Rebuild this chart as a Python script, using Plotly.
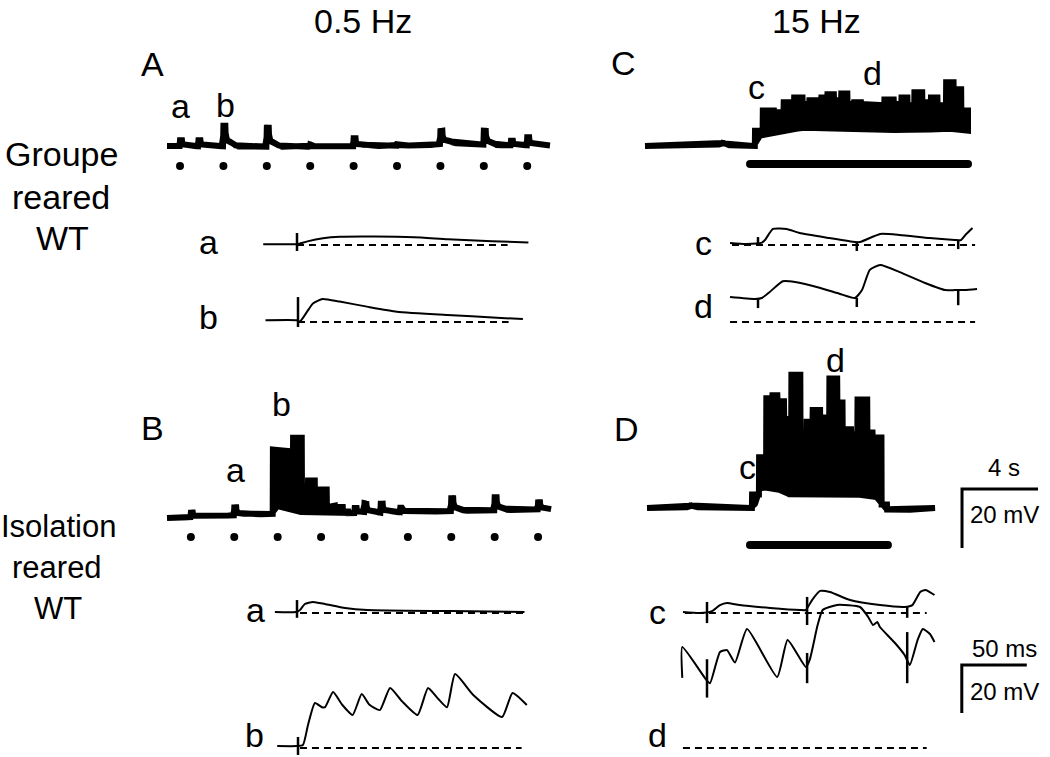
import numpy as np
import plotly.graph_objects as go

W, H = 1050, 757
FONT = "Liberation Sans, Arial, sans-serif"

# ===================== DATA =====================
# ---- Overview traces: time (s), potential (mV, relative to trace start) ----
# A : group reared, 0.5 Hz
A_end = 17.65
A_base_t = [0, 6.6, 12.0, 13.0, 14.0, 15.0, 17.65]
A_base_v = [0, -0.3, 0.2, 1.0, 0.8, 0.3, 0.2]
A_stim_t = [0.6, 2.6, 4.6, 6.6, 8.6, 10.6, 12.6, 14.6, 16.6]
A_resp_mV = [2.0, 7.0, 6.4, 0.8, 2.7, 0.5, 4.4, 4.7, 2.7]
A_spont_t = [1.45, 15.85]
A_spont_mV = [2.0, 1.5]

# B : isolation reared, 0.5 Hz
B_end = 17.7
B_base_t = [0, 4.9, 8.9, 17.7]
B_base_v = [0, 1.4, 1.7, 3.0]
B_stim_t = [1.1, 3.1, 5.1, 7.1, 9.1, 11.1, 13.1, 15.1, 17.1]
B_evt_t = [1.1, 3.1, 8.65, 9.1, 9.85, 10.75, 13.1, 15.1, 17.1]
B_evt_mV = [1.5, 2.7, 1.7, 3.0, 3.0, 1.5, 4.4, 4.4, 2.4]
B_burst_start = [4.88, 5.35, 5.58, 5.81, 6.22, 6.5, 6.82, 6.91, 7.37, 7.42, 7.74, 7.83, 8.11]
B_burst_top = [23.2, 22.7, 17.7, 27.2, 9.2, 12.7, 5.7, 9.7, 3.7, 4.2, 2.2, 3.7, 2.2]
B_burst_end = 8.35
B_low_t = [4.88, 5.1, 5.6, 5.9, 6.3, 7.0, 8.35]
B_low_v = [1.4, 4.2, 3.5, 2.6, 1.8, 1.5, 1.6]

# C : group reared, 15 Hz
C_end = 17.0
C_base_t = [0, 2.9, 4.0, 4.1, 4.3, 5.79, 17.0]
C_base_v = [0, 0.3, 0.5, 1.2, 0.3, 0, 0]
C_burst_start = [5.79, 6.2, 6.8, 7.3, 7.85, 8.3, 8.65, 9.28, 9.6, 9.95, 10.33, 10.66, 11.0,
                 11.38, 12.05, 12.6, 13.1, 13.5, 13.82, 14.18, 14.6, 15.05, 15.4, 15.85,
                 16.25, 16.4, 16.65]
C_burst_top = [5.2, 12.0, 11.4, 14.8, 16.4, 14.2, 15.5, 16.4, 17.5, 15.5, 17.8, 14.2, 14.8,
               14.2, 13.8, 15.8, 14.2, 16.4, 13.8, 18.2, 14.8, 16.4, 13.8, 21.6,
               14.2, 19.2, 12.0]
C_burst_end = 17.0
C_low_t = [5.79, 6.05, 6.74, 7.37, 8.26, 9.3, 10.5, 11.5, 12.5, 13.5, 14.5, 15.5, 16.3, 17.0]
C_low_v = [0, 3.5, 4.5, 5.2, 6.2, 5.8, 6.0, 5.4, 5.8, 5.2, 5.8, 5.4, 6.0, 5.2]
C_train = [5.53, 17.0]          # 15 Hz stimulation (s)

# D : isolation reared, 15 Hz
D_end = 15.16
D_base_t = [0, 2.2, 2.3, 2.5, 5.53, 12.63, 13.0, 15.0, 15.16]
D_base_v = [0, 0.3, 1.0, 0.3, 0, -0.5, -0.7, -0.5, 0]
D_burst_start = [5.53, 5.9, 6.28, 6.6, 6.87, 7.22, 7.6, 8.08, 8.4, 8.72, 9.12, 9.25, 9.6,
                 10.02, 10.3, 10.75, 11.08, 11.6, 11.88, 12.35]
D_burst_top = [4.6, 17.2, 37.2, 38.2, 36.2, 30.2, 45.2, 23.2, 29.2, 33.2, 23.2, 30.7, 43.9,
               35.8, 26.7, 25.0, 36.8, 25.6, 23.9, 1.2]
D_burst_end = 12.63
D_low_t = [5.53, 5.8, 5.95, 6.6, 7.2, 7.6, 8.3, 9.5, 10.5, 11.5, 12.2, 12.45, 12.63]
D_low_v = [0, 2.5, 7.0, 6.8, 5.8, 4.2, 4.4, 4.5, 4.5, 4.5, 3.5, 1.0, -0.5]
D_train = [5.42, 12.68]

# ---- Expanded sweeps: time (ms, 0 = first stimulus), potential (mV) ----
Aa_t = [-26, -1, 0.5, 8, 20, 33, 60, 90, 116, 150, 178]
Aa_v = [0.3, 0.3, 0.3, 1.5, 2.8, 3.4, 3.5, 3.2, 2.4, 1.6, 1.0]
Aa_art = [(0, 5.0, -2.5)]
Ab_t = [-25, -1, 1.5, 7, 11.5, 19, 32, 53, 76, 115, 153, 173]
Ab_v = [0.7, 0.7, 0.2, 4.3, 7.7, 9.6, 8.5, 6.4, 4.3, 2.9, 1.8, 1.2]
Ab_art = [(0, 10.4, -2.1)]

Cc_t = [-21.5, -10, -1, 3, 5.4, 11.5, 22, 32, 55, 74.6, 78.5, 94, 109, 132, 151.5, 156, 160, 165]
Cc_v = [0.8, 0.4, 0.6, 1.0, 2.1, 6.7, 6.7, 5.0, 2.9, 1.25, 1.25, 4.6, 4.2, 2.9, 2.1, 2.0, 4.5, 7.1]
Cc_art = [(0, 3.3, -0.4), (76, 1.2, -2.5), (154, 2.0, -1.7)]
Cd_t = [-21.5, -2.3, 3, 9, 19, 28.5, 48, 63, 74.6, 80, 86, 94, 109, 128.5, 144, 151.5, 159, 168.5]
Cd_v = [10.4, 9.6, 10, 12.5, 17, 16.7, 14.2, 11.7, 10, 13.3, 21.7, 23.75, 20.8, 16.25, 13.3, 13.3, 13.3, 13.75]
Cd_art = [(0, 9.6, 5.8), (76, 10, 6.25), (154, 13.3, 7)]

Ba_t = [-17, -1, 2.3, 6, 12.3, 21.5, 37, 54, 118, 175]
Ba_v = [0.4, 0.4, 1.25, 3.75, 4.6, 3.75, 2.1, 1.25, 0.8, 0.4]
Ba_art = [(0, 5.4, -2.0)]
Bb_t = [-16, -1, 3.8, 7.7, 13, 18.5, 20.8, 27, 34, 42, 49, 55, 63, 70.8, 80, 92, 100, 107,
        114.6, 120.8, 135, 157, 165, 176]
Bb_v = [0.8, 0.8, 1.25, 9.6, 18.75, 17, 17, 23.3, 18, 13.75, 22.5, 18, 15.8, 25, 19.5, 13.75,
        25, 21, 17, 30.8, 22, 12.9, 22.9, 17.9]
Bb_art = [(0, 4.6, -2.9)]

Dc_t = [-18.5, -5.4, 3.8, 10, 15.4, 25, 48.5, 71.5, 76, 80.8, 87, 94.6, 110, 133, 152, 158, 164, 168, 175]
Dc_v = [0.4, 0, 0.8, 3.3, 4.2, 3.3, 2.1, 1.25, 1.25, 5.4, 9.2, 8.75, 5.4, 3.3, 2.5, 3.3, 8.75, 9.6, 7.5]
Dc_art = [(0, 4.6, -4.2), (77, 6.7, -5.0), (154, 2.5, -2.0)]
Dd_t = [-19, -19, -1, 2.3, 10, 15.4, 21.5, 30.8, 54, 62, 76, 79, 85, 89, 100, 117.7, 124, 127.7,
        131, 133, 144.6, 152, 156, 162, 166, 171.5, 175]
Dd_v = [29.2, 42.1, 28.75, 27, 40, 40.8, 35.6, 49.6, 29.6, 45, 33.75, 36.7, 51, 57.5, 59.6,
        58.75, 54.6, 51.25, 52.5, 50.4, 43.75, 38.75, 34.6, 45, 49.6, 47.5, 44.2]
Dd_art = [(0, 37.0, 21.0), (77, 39.6, 27.0), (154, 48.3, 27.0)]

# dashed resting-potential references (ms)
Aa_rest = [0, 162]; Ab_rest = [0, 162]
Cc_rest = [-20, 167]; Cd_rest = [-21.5, 167]
Ba_rest = [2.3, 175]; Bb_rest = [1.5, 172]
Dc_rest = [-17, 169]; Dd_rest = [-18.5, 169]

# scale bars
SB_slow = (4, 20)     # s, mV
SB_fast = (50, 20)    # ms, mV

# ===================== LAYOUT HELPERS =====================
fig = go.Figure()
axes = {}


def add_axis(i, x0, y0, ppx, ppy, left, right, up, down):
    s = '' if i == 1 else str(i)
    axes['xaxis' + s] = dict(domain=[(x0 - left) / W, (x0 + right) / W],
                             range=[-left / ppx, right / ppx], visible=False,
                             fixedrange=True, anchor='y' + s)
    axes['yaxis' + s] = dict(domain=[1 - (y0 + down) / H, 1 - (y0 - up) / H],
                             range=[-down / ppy, up / ppy], visible=False,
                             fixedrange=True, anchor='x' + s)
    return 'x' + s, 'y' + s


# shape of a single slow-sweep response (time after stimulus in s, fraction of peak)
EVT_T = [-0.02, 0.0, 0.09, 0.11, 0.42, 0.6]
EVT_F = [0, 1, 1, 0.3, 0.2, 0]


def overview(t_end, base_t, base_v, evt_t=(), evt_a=(), b_start=None, b_top=None,
             b_end=None, low_t=None, low_v=None):
    g = np.round(np.arange(0, t_end + 1e-9, 0.01), 4)
    v = np.interp(g, base_t, base_v)
    for te, a in zip(evt_t, evt_a):
        v = v + a * np.interp(g - te, EVT_T, EVT_F, left=0, right=0)
    up = v.copy()
    lo = v.copy()
    if b_start is not None:
        m = (g >= b_start[0]) & (g <= b_end)
        idx = np.searchsorted(b_start, g[m], side='right') - 1
        up[m] = np.maximum(v[m], np.array(b_top)[idx])
        lo[m] = np.interp(g[m], low_t, low_v)
    return g, up, lo


def draw_overview(ax, g, up, lo, width=6):
    fig.add_trace(go.Scatter(x=np.concatenate([g, g[::-1]]), y=np.concatenate([up, lo[::-1]]),
                             mode='lines', fill='toself', fillcolor='black',
                             line=dict(color='black', width=width),
                             xaxis=ax[0], yaxis=ax[1], hoverinfo='skip'))


def draw_dots(ax, t, level):
    fig.add_trace(go.Scatter(x=t, y=[level] * len(t), mode='markers',
                             marker=dict(color='black', size=8), xaxis=ax[0], yaxis=ax[1],
                             hoverinfo='skip'))


def draw_bar(ax, t, level):
    fig.add_trace(go.Scatter(x=t, y=[level, level], mode='lines+markers',
                             line=dict(color='black', width=8),
                             marker=dict(color='black', size=8),
                             xaxis=ax[0], yaxis=ax[1], hoverinfo='skip'))


def draw_sweep(ax, t, v, arts, rest):
    fig.add_trace(go.Scatter(x=rest, y=[0, 0], mode='lines',
                             line=dict(color='black', width=2, dash='7px,5px'),
                             xaxis=ax[0], yaxis=ax[1], hoverinfo='skip'))
    fig.add_trace(go.Scatter(x=t, y=v, mode='lines',
                             line=dict(color='black', width=2, shape='spline', smoothing=0.5),
                             xaxis=ax[0], yaxis=ax[1], hoverinfo='skip'))
    ax_x, ax_y = [], []
    for (ta, hi, lo_) in arts:
        ax_x += [ta, ta, None]
        ax_y += [hi, lo_, None]
    fig.add_trace(go.Scatter(x=ax_x, y=ax_y, mode='lines',
                             line=dict(color='black', width=2.5),
                             xaxis=ax[0], yaxis=ax[1], hoverinfo='skip'))


def draw_scalebar(ax, x0, y0, dx, dy):
    fig.add_trace(go.Scatter(x=[x0 + dx, x0, x0], y=[y0, y0, y0 - dy], mode='lines',
                             line=dict(color='black', width=3),
                             xaxis=ax[0], yaxis=ax[1], hoverinfo='skip'))


# ===================== AXES (panel placement in px) =====================
ppx_slowAB, ppx_slowCD, ppy_slow = 21.7, 19.0, 2.95   # px per s, px per mV
ppx_fast, ppy_fast = 1.3, 2.4                         # px per ms, px per mV

axA = add_axis(1, 167, 146, ppx_slowAB, ppy_slow, 10, 400, 60, 40)
axC = add_axis(2, 645, 146, ppx_slowCD, ppy_slow, 10, 340, 90, 40)
axB = add_axis(3, 167, 518, ppx_slowAB, ppy_slow, 10, 400, 110, 40)
axD = add_axis(4, 647, 508, ppx_slowCD, ppy_slow, 10, 400, 150, 60)
axAa = add_axis(5, 297, 245, ppx_fast, ppy_fast, 40, 250, 20, 15)
axAb = add_axis(6, 298, 322, ppx_fast, ppy_fast, 40, 250, 30, 15)
axCc = add_axis(7, 758, 245, ppx_fast, ppy_fast, 40, 250, 25, 15)
axCd = add_axis(8, 758, 322, ppx_fast, ppy_fast, 40, 250, 65, 15)
axBa = add_axis(9, 297, 613, ppx_fast, ppy_fast, 40, 250, 20, 15)
axBb = add_axis(10, 298, 748, ppx_fast, ppy_fast, 40, 250, 90, 9)
axDc = add_axis(11, 707, 613, ppx_fast, ppy_fast, 40, 250, 30, 15)
axDd = add_axis(12, 707, 748, ppx_fast, ppy_fast, 40, 330, 160, 9)

# ===================== DRAW =====================
g, u, l = overview(A_end, A_base_t, A_base_v, A_stim_t + A_spont_t, A_resp_mV + A_spont_mV)
draw_overview(axA, g, u, l)
draw_dots(axA, A_stim_t, -6.8)

g, u, l = overview(B_end, B_base_t, B_base_v, B_evt_t, B_evt_mV, B_burst_start, B_burst_top,
                   B_burst_end, B_low_t, B_low_v)
draw_overview(axB, g, u, l)
draw_dots(axB, B_stim_t, -6.4)

g, u, l = overview(C_end, C_base_t, C_base_v, b_start=C_burst_start, b_top=C_burst_top,
                   b_end=C_burst_end, low_t=C_low_t, low_v=C_low_v)
draw_overview(axC, g, u, l)
draw_bar(axC, C_train, -6.1)

g, u, l = overview(D_end, D_base_t, D_base_v, b_start=D_burst_start, b_top=D_burst_top,
                   b_end=D_burst_end, low_t=D_low_t, low_v=D_low_v)
draw_overview(axD, g, u, l)
draw_bar(axD, D_train, -12.5)
draw_scalebar(axD, 16.58, 6.4, SB_slow[0], SB_slow[1])

draw_sweep(axAa, Aa_t, Aa_v, Aa_art, Aa_rest)
draw_sweep(axAb, Ab_t, Ab_v, Ab_art, Ab_rest)
draw_sweep(axCc, Cc_t, Cc_v, Cc_art, Cc_rest)
draw_sweep(axCd, Cd_t, Cd_v, Cd_art, Cd_rest)
draw_sweep(axBa, Ba_t, Ba_v, Ba_art, Ba_rest)
draw_sweep(axBb, Bb_t, Bb_v, Bb_art, Bb_rest)
draw_sweep(axDc, Dc_t, Dc_v, Dc_art, Dc_rest)
draw_sweep(axDd, Dd_t, Dd_v, Dd_art, Dd_rest)
draw_scalebar(axDd, 196.0, 34.6, SB_fast[0], SB_fast[1])

# ===================== TEXT =====================
BIG, MID, SMALL = 34, 31, 24
# (text, x px, y px, size, vertical anchor)
labels = [
    ("0.5 Hz", 363, 0, BIG, 'top'), ("15 Hz", 816, 0, BIG, 'top'),
    ("A", 152, 64, BIG, 'middle'), ("C", 623, 63, BIG, 'middle'),
    ("B", 152, 428, BIG, 'middle'), ("D", 626, 429, BIG, 'middle'),
    ("Groupe", 61, 154, BIG, 'middle'), ("reared", 61, 197, BIG, 'middle'),
    ("WT", 62, 238, BIG, 'middle'),
    ("Isolation", 58, 526, MID, 'middle'), ("reared", 57, 567, MID, 'middle'),
    ("WT", 58, 608, MID, 'middle'),
    ("a", 180, 106, BIG, 'middle'), ("b", 225, 105, BIG, 'middle'),
    ("c", 756, 87, BIG, 'middle'), ("d", 872, 73, BIG, 'middle'),
    ("a", 235, 470, BIG, 'middle'), ("b", 281, 404, BIG, 'middle'),
    ("c", 747, 467, BIG, 'middle'), ("d", 835, 360, BIG, 'middle'),
    ("a", 208, 242, BIG, 'middle'), ("b", 208, 317, BIG, 'middle'),
    ("c", 703, 243, BIG, 'middle'), ("d", 703, 306, BIG, 'middle'),
    ("a", 255, 610, BIG, 'middle'), ("b", 254, 756, BIG, 'bottom'),
    ("c", 657, 612, BIG, 'middle'), ("d", 657, 756, BIG, 'bottom'),
    ("4 s", 1004, 467, SMALL, 'middle'), ("20 mV", 1004, 514, SMALL, 'middle'),
    ("50 ms", 1004, 648, SMALL, 'middle'), ("20 mV", 1004, 691, SMALL, 'middle'),
]
annotations = [dict(text=t, x=px / W, y=1 - py / H, xref='paper', yref='paper',
                    xanchor='center', yanchor=va, showarrow=False,
                    font=dict(family=FONT, size=s, color='black'))
               for (t, px, py, s, va) in labels]

fig.update_layout(width=W, height=H, margin=dict(l=0, r=0, t=0, b=0, pad=0),
                  paper_bgcolor='white', plot_bgcolor='rgba(0,0,0,0)',
                  showlegend=False, annotations=annotations, **axes)

fig.write_html("out.html", config={'displayModeBar': False},
               post_script="document.body.style.margin='0px';document.body.style.padding='0px';")
